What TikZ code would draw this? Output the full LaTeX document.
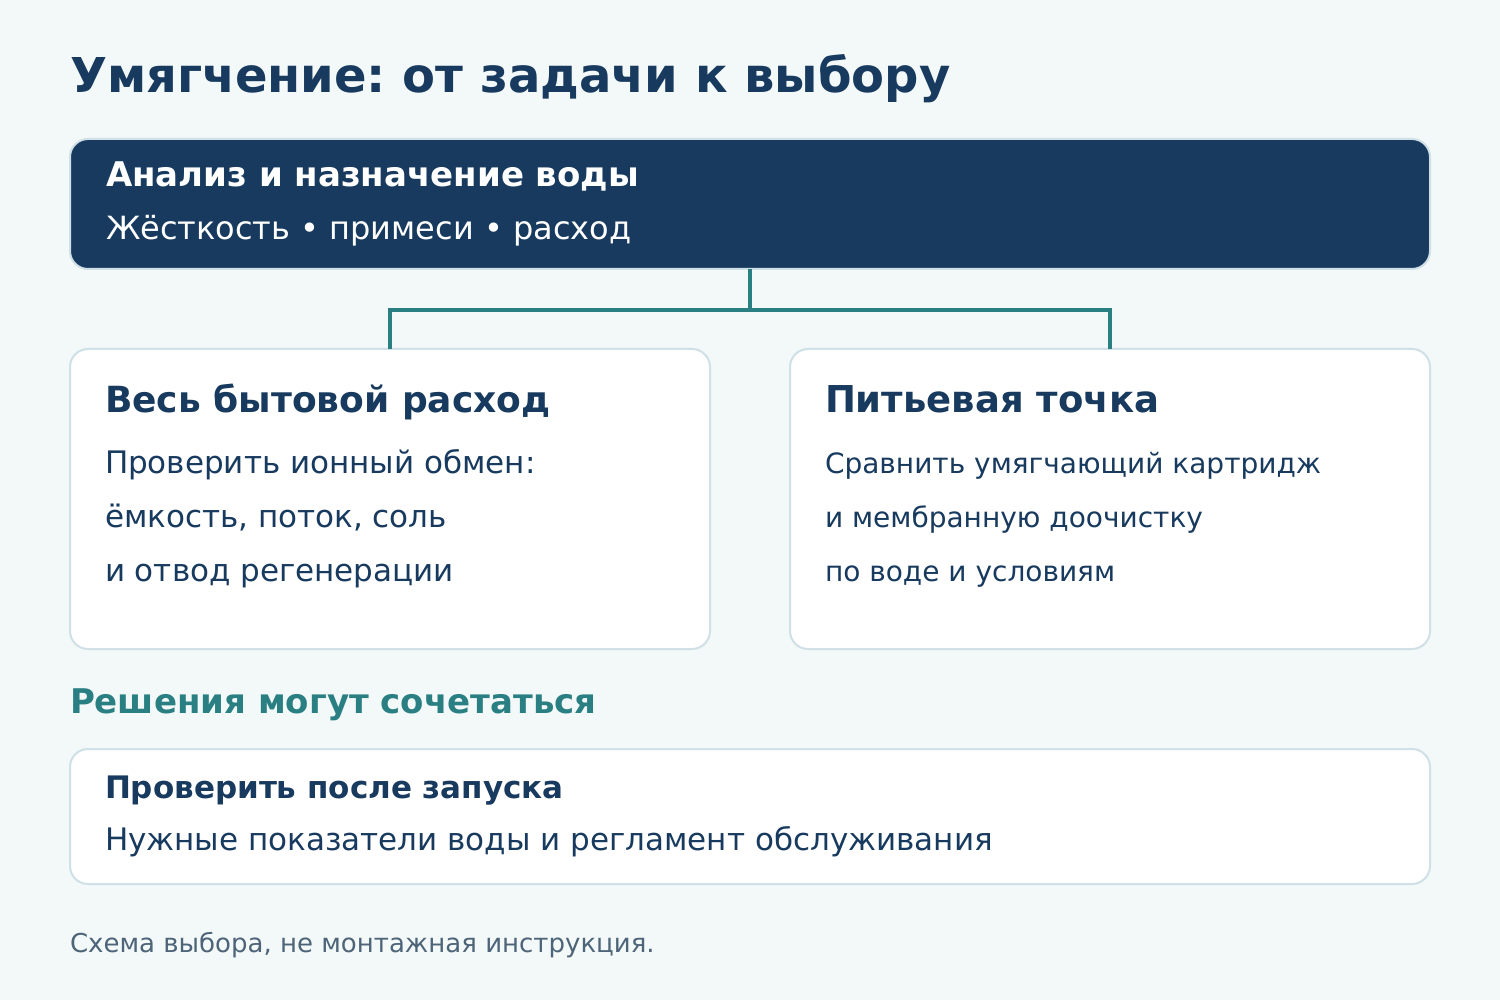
\documentclass[tikz,border=0pt]{standalone}
\usepackage{fontspec}
\setmainfont{DejaVu Sans}
\frenchspacing
\definecolor{bg}{HTML}{F3F8F8}
\definecolor{navy}{HTML}{173A5E}
\definecolor{teal}{HTML}{2A7F83}
\definecolor{edge}{HTML}{CFE0E6}
\definecolor{foot}{HTML}{4E6478}
\tikzset{
  card/.style={draw=edge, line width=2pt, rounded corners=18pt, fill=white},
  darkcard/.style={draw=edge, line width=2pt, rounded corners=18pt, fill=navy},
  txt/.style={anchor=base west, inner sep=0pt, outer sep=0pt},
  link/.style={draw=teal, line width=3.5pt},
}
\newcommand{\fs}[1]{\fontsize{#1}{#1}\selectfont\frenchspacing}
\begin{document}
\begin{tikzpicture}[x=1pt,y=-1pt]
\fill[bg] (0,0) rectangle (1500,1000);
\useasboundingbox (0,0) rectangle (1500,1000);
\node[txt, text=navy, font=\fs{48}\bfseries] (title) at (70,93) {Умягчение: от задачи к выбору};
% top card
\draw[darkcard] (70,139) rectangle (1430,269);
\coordinate (topc) at (750,269);
\node[txt, text=white, font=\fs{34}\bfseries] (h1) at (106,187) {Анализ и назначение воды};
\node[txt, text=white, font=\fs{32}] (h2) at (106,240) {Жёсткость • примеси • расход};
% cards
\draw[card] (70,349) rectangle (710,649);
\draw[card] (790,349) rectangle (1430,649);
\coordinate (lc) at (390,349);
\coordinate (rc) at (1110,349);
\coordinate (mid) at (750,310);
\draw[link] (topc) -- (mid);
\draw[link] (lc) |- (mid) -| (rc);
\node[txt, text=navy, font=\fs{36}\bfseries] (l1) at (105,412) {Весь бытовой расход};
\node[txt, text=navy, font=\fs{31}] (l2) at (105,473) {Проверить ионный обмен:};
\node[txt, text=navy, font=\fs{31}] (l3) at (105,527) {ёмкость, поток, соль};
\node[txt, text=navy, font=\fs{31}] (l4) at (105,581) {и отвод регенерации};
\node[txt, text=navy, font=\fs{37}\bfseries] (r1) at (825,412) {Питьевая точка};
\node[txt, text=navy, font=\fs{28}] (r2) at (825,473) {Сравнить умягчающий картридж};
\node[txt, text=navy, font=\fs{28}] (r3) at (825,527) {и мембранную доочистку};
\node[txt, text=navy, font=\fs{28}] (r4) at (825,581) {по воде и условиям};
\node[txt, text=teal, font=\fs{34}\bfseries] (note) at (70,713) {Решения могут сочетаться};
\draw[card] (70,749) rectangle (1430,884);
\node[txt, text=navy, font=\fs{31}\bfseries] (b1) at (105,798) {Проверить после запуска};
\node[txt, text=navy, font=\fs{31}] (b2) at (105,850) {Нужные показатели воды и регламент обслуживания};
\node[txt, text=foot, font=\fs{26}] (ft) at (70,952) {Схема выбора, не монтажная инструкция.};
\end{tikzpicture}
\end{document}
